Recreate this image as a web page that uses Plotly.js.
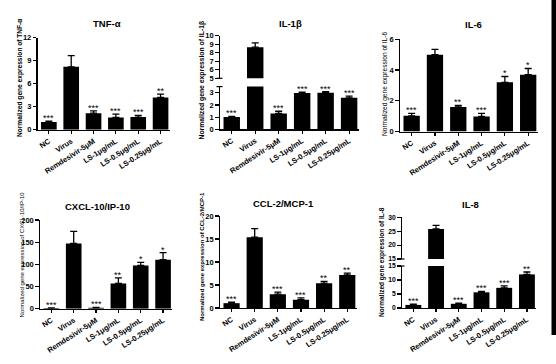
<!DOCTYPE html>
<html>
<head>
<meta charset="utf-8">
<script src="https://cdn.plot.ly/plotly-3.0.1.min.js"></script>
<style>html,body{margin:0;padding:0;background:#fff;}#chart{width:556px;height:364px;}</style>
</head>
<body>
<div id="chart"></div>
<script>
// ---- data ----
var categories = ["NC", "Virus", "Remdesivir-5μM", "LS-1μg/mL", "LS-0.5μg/mL", "LS-0.25μg/mL"];

var panelTitles = ["TNF-α", "IL-1β", "IL-6", "CXCL-10/IP-10", "CCL-2/MCP-1", "IL-8"];

var tnfMean = [1.0, 8.2, 2.15, 1.6, 1.65, 4.2];
var tnfErr  = [0.12, 1.45, 0.3, 0.42, 0.22, 0.45];
var tnfSig  = ["***", "", "***", "***", "***", "**"];

var il1bMean = [1.0, 8.65, 1.3, 2.97, 3.0, 2.58];
var il1bErr  = [0.05, 0.5, 0.18, 0.08, 0.08, 0.14];
var il1bSig  = ["***", "", "***", "***", "***", "***"];

var il6Mean = [1.02, 5.0, 1.6, 0.98, 3.2, 3.7];
var il6Err  = [0.16, 0.35, 0.1, 0.2, 0.38, 0.4];
var il6Sig  = ["***", "", "**", "***", "*", "*"];

var cxclMean = [1.5, 147, 2, 57, 97.5, 110.5];
var cxclErr  = [0.5, 27.5, 0.8, 12.5, 7, 16];
var cxclSig  = ["***", "", "***", "**", "*", "*"];

var cclMean = [1.05, 15.4, 3.0, 1.8, 5.4, 7.2];
var cclErr  = [0.2, 1.85, 0.45, 0.42, 0.4, 0.38];
var cclSig  = ["***", "", "***", "***", "**", "**"];

var il8Mean = [1.1, 25.8, 1.5, 5.6, 7.2, 12.0];
var il8Err  = [0.25, 1.3, 0.2, 0.35, 0.7, 0.85];
var il8Sig  = ["***", "", "***", "***", "***", "**"];

var tnfTicks  = [0, 3, 6, 9, 12];
var il1bLowTicks = [0, 1, 2, 3];
var il1bUpTicks  = [5, 6, 7, 8, 9, 10];
var il6Ticks  = [0, 2, 4, 6];
var cxclTicks = [0, 50, 100, 150, 200];
var cclTicks  = [0, 5, 10, 15, 20];
var il8LowTicks = [0, 5, 10, 15];
var il8UpTicks  = [15, 20, 25, 30];

// ---- layout helpers (pixels -> paper) ----
var W = 556, H = 364;
function fx(p) { return p / W; }
function fy(p) { return 1 - p / H; }
var FONT = "Liberation Sans, Arial, sans-serif";

var panels = [
  {mean: tnfMean, err: tnfErr, sig: tnfSig, title: panelTitles[0],
   xd: [37.7, 169.5], low: {range: [0, 12], px: [129.7, 37.7], ticks: tnfTicks},
   titlePos: [107, 24], ylab: "Normalized gene expression of TNF-α", ylabPos: [20, 78], ylabSize: 6.6, ylabBold: true},
  {mean: il1bMean, err: il1bErr, sig: il1bSig, title: panelTitles[1],
   xd: [220, 358.5], low: {range: [0, 3.5], px: [129.3, 86.6], ticks: il1bLowTicks},
   up: {range: [5, 10], px: [78.3, 35.7], ticks: il1bUpTicks},
   titlePos: [290, 23], ylab: "Normalized gene expression of IL-1β", ylabPos: [201.5, 80], ylabSize: 6.8, ylabBold: true},
  {mean: il6Mean, err: il6Err, sig: il6Sig, title: panelTitles[2],
   xd: [400, 537.5], low: {range: [0, 6], px: [131.5, 39.3], ticks: il6Ticks},
   titlePos: [473, 25], ylab: "Normalized gene expression of IL-6", ylabPos: [385, 84], ylabSize: 6.6, ylabBold: false},
  {mean: cxclMean, err: cxclErr, sig: cxclSig, title: panelTitles[3],
   xd: [40.2, 172], low: {range: [0, 200], px: [308.7, 220], ticks: cxclTicks},
   titlePos: [97, 206], ylab: "Normalized gene expression of CXCL-10/IP-10", ylabPos: [21.5, 255], ylabSize: 6, ylabBold: false},
  {mean: cclMean, err: cclErr, sig: cclSig, title: panelTitles[4],
   xd: [220, 356.5], low: {range: [0, 20], px: [308, 216], ticks: cclTicks},
   titlePos: [283, 203], ylab: "Normalized gene expression of CCL-2/MCP-1", ylabPos: [202, 257], ylabSize: 6, ylabBold: true},
  {mean: il8Mean, err: il8Err, sig: il8Sig, title: panelTitles[5],
   xd: [402, 536], low: {range: [0, 15], px: [308, 266], ticks: il8LowTicks, shift: -2.5, fs: 6.8},
   up: {range: [15, 30], px: [259, 217.3], ticks: il8UpTicks, shift: 2.5, fs: 6.8},
   titlePos: [470, 204], ylab: "Normalized gene expression of IL-8", ylabPos: [382, 262], ylabSize: 6.5, ylabBold: true}
];

var traces = [];
var layout = {
  width: W, height: H,
  margin: {l: 0, r: 0, t: 0, b: 0},
  paper_bgcolor: "#ffffff", plot_bgcolor: "rgba(0,0,0,0)",
  showlegend: false, bargap: 0.3,
  font: {family: FONT, color: "#000"},
  annotations: [], shapes: []
};

function yAxisDef(seg, xName) {
  return {
    domain: [fy(seg.px[0]), fy(seg.px[1])],
    range: seg.range, anchor: xName,
    showgrid: false, zeroline: false,
    showline: true, linecolor: "#000", linewidth: 1.4,
    ticks: "outside", ticklen: 3.5, tickwidth: 1.2, tickcolor: "#000",
    tickvals: seg.ticks, ticktext: seg.ticks.map(String),
    ticklabelshift: seg.shift || 0,
    tickfont: {family: FONT, size: seg.fs || 7.5, color: "#000", weight: "bold"},
    fixedrange: true
  };
}

var upperIndex = 7;
panels.forEach(function (p, i) {
  var n = i + 1;
  var xName = "x" + (n === 1 ? "" : n);
  var yName = "y" + (n === 1 ? "" : n);
  var xKey = "xaxis" + (n === 1 ? "" : n);
  var yKey = "yaxis" + (n === 1 ? "" : n);

  layout[xKey] = {
    domain: [fx(p.xd[0]), fx(p.xd[1])],
    type: "category", categoryorder: "array", categoryarray: categories,
    range: [-0.5, 5.4], anchor: yName,
    showgrid: false, zeroline: false,
    showline: true, linecolor: "#000", linewidth: 1.4,
    ticks: "outside", ticklen: 3, tickwidth: 1.2, tickcolor: "#000",
    tickangle: -33,
    tickfont: {family: FONT, size: 7.5, color: "#000", weight: "bold"},
    fixedrange: true
  };
  layout[yKey] = yAxisDef(p.low, xName);

  var barTrace = function (yRef, filter) {
    var xs = [], ys = [], es = [], ez = [];
    categories.forEach(function (c, k) {
      if (filter(k)) { xs.push(c); ys.push(p.mean[k]); es.push(p.err[k]); ez.push(0); }
    });
    return {
      type: "bar", x: xs, y: ys, xaxis: xName, yaxis: yRef,
      width: 0.7, marker: {color: "#000", line: {width: 0}},
      error_y: {type: "data", symmetric: false, array: es, arrayminus: ez,
                color: "#000", thickness: 1.3, width: 3.5},
      hoverinfo: "skip"
    };
  };
  traces.push(barTrace(yName, function () { return true; }));

  if (p.up) {
    var uName = "y" + upperIndex;
    var uKey = "yaxis" + upperIndex;
    upperIndex++;
    layout[uKey] = yAxisDef(p.up, xName);
    traces.push(barTrace(uName, function (k) { return p.mean[k] > p.low.range[1]; }));
    // break marks
    var ax = p.xd[0];
    [p.low.px[1], p.up.px[0]].forEach(function (py) {
      layout.shapes.push({type: "line", xref: "paper", yref: "paper",
        x0: fx(ax - 3.5), x1: fx(ax + 2.5), y0: fy(py), y1: fy(py),
        line: {color: "#000", width: 1.2}});
    });
  }

  // significance stars
  categories.forEach(function (c, k) {
    if (!p.sig[k]) return;
    layout.annotations.push({
      xref: xName, yref: yName, x: c, y: p.mean[k] + p.err[k],
      text: p.sig[k], showarrow: false, yanchor: "bottom", yshift: -4,
      font: {family: FONT, size: 9, color: "#000"}
    });
  });

  // panel title
  layout.annotations.push({
    xref: "paper", yref: "paper", x: fx(p.titlePos[0]), y: fy(p.titlePos[1]),
    text: "<b>" + p.title + "</b>", showarrow: false, xanchor: "center", yanchor: "middle",
    font: {family: FONT, size: 9.5, color: "#000"}
  });

  // y-axis title
  layout.annotations.push({
    xref: "paper", yref: "paper", x: fx(p.ylabPos[0]), y: fy(p.ylabPos[1]),
    text: p.ylabBold ? "<b>" + p.ylab + "</b>" : p.ylab,
    textangle: -90, showarrow: false, xanchor: "center", yanchor: "middle",
    font: {family: FONT, size: p.ylabSize, color: "#000"}
  });
});

// dark strip along the right border of the photo
layout.shapes.push({type: "rect", xref: "paper", yref: "paper",
  x0: fx(551.5), x1: 1, y0: fy(335), y1: 1, line: {width: 0}, fillcolor: "#000"});

Plotly.newPlot("chart", traces, layout, {staticPlot: true, displayModeBar: false});
</script>
</body>
</html>
